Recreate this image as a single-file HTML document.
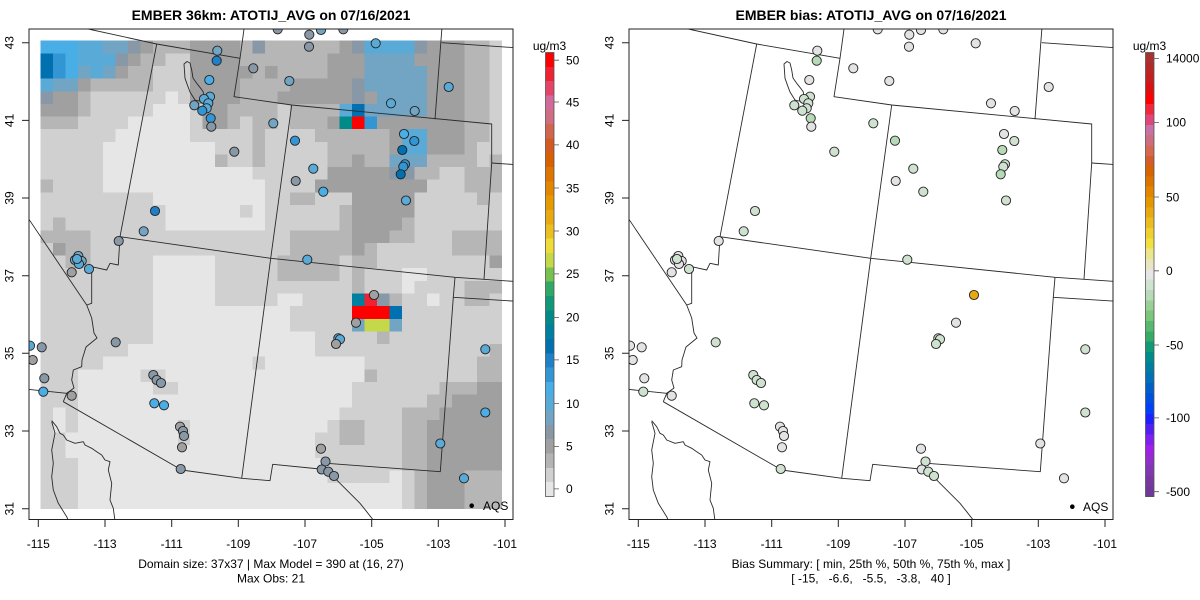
<!DOCTYPE html>
<html>
<head>
<meta charset="utf-8">
<style>
html,body{margin:0;padding:0;background:#fff;}
svg{display:block;}
text{font-family:"Liberation Sans",Arial,sans-serif;fill:#000;}
</style>
</head>
<body>
<svg id="root" width="1200" height="600" viewBox="0 0 1200 600" xmlns="http://www.w3.org/2000/svg" xmlns:xlink="http://www.w3.org/1999/xlink">
<defs>
  <clipPath id="cl"><rect x="29" y="29" width="484" height="490.5"/></clipPath>
  <clipPath id="cr"><rect x="629" y="29" width="484" height="490.5"/></clipPath>
  <g id="geo" fill="none" stroke="#2a2a2a" stroke-width="0.9" stroke-linejoin="round">
    <path d="M88.3,29 L156.7,44 L240,58.3"/>
    <path d="M156.7,44 L120,236.7"/>
    <path d="M120,236.7 L270.7,258.3 L455,277.3 L515,281.5"/>
    <path d="M244.3,27 L240,58.3 L234,96.7 L291.7,105 L491.7,124 L491.7,163 L484,279.3"/>
    <path d="M291.7,105 L270.7,258.3 L241.7,478.3"/>
    <path d="M442,27 L435,119.3"/>
    <path d="M441.7,42.7 L515,47.7"/>
    <path d="M491.7,163 L515,164.6"/>
    <path d="M455,277.3 L453.3,297.3 L515,301.2"/>
    <path d="M453.3,297.3 L440.3,471.7 L326.7,463.3"/>
    <path d="M63.3,401.7 L181.7,470 L242,478.3 L270,480.7 L272.7,464.3 L320,469"/>
    <path d="M27,389.2 L66.7,393.3 L63.3,401.7"/>
    <path d="M27,216.4 L86.7,305"/>
    <path d="M120,236.7 L118.3,265 L110,263.3 L106.7,270 L91.7,266.7 L91.7,303.3 L86.7,305 L91.7,318 L94,333 L97,338 L86,347 L82,360 L81.7,366.7 L73.3,370 L71.7,380 L74,388 L66.7,393.3"/>
    <path d="M51.7,420.7 L56.7,426.7 L60,433.3 L63.3,435 L66.7,440 L75,443.3 L83.3,441.7 L85,445 L91.7,448.3 L96.7,451.7 L101.7,455 L105,460 L110,461.7 L108.3,470 L111.7,483.3 L110,500 L113.3,508.3 L115,521"/>
    <path d="M51.7,421.7 L55,433.3 L51.7,450 L53.3,463.3 L51.7,476.7 L53.3,490 L58.3,503.3 L66.7,516.7 L68.5,521"/>
    <path d="M320,469 L330,473.3 L340,483.3 L350,493.3 L360,503.3 L366.7,511.7 L374,521"/>
    <path d="M184,64 L187,61.5 L190,63 L191.7,70 L193,78 L196.7,83.3 L200.7,88.3 L203.3,92 L204,100 L199,101 L195,100 L190,92 L188,86.7 L185,78.3 Z"/>
  </g>
</defs>

<!-- LEFT PANEL -->
<g clip-path="url(#cl)">
  <rect x="40.7" y="40.7" width="461" height="467.7" fill="#d6d6d6"/>
  <g id="grid" shape-rendering="crispEdges"></g>
  <use xlink:href="#geo" href="#geo"/>
  <g id="ptsL"></g>
</g>
<!-- RIGHT PANEL -->
<g clip-path="url(#cr)">
  <use xlink:href="#geo" href="#geo" x="600"/>
  <g id="ptsR"></g>
</g>

<!-- boxes and ticks -->
<g fill="none" stroke="#222" stroke-width="1">
  <rect x="29" y="29" width="484" height="490.5"/>
  <rect x="629" y="29" width="484" height="490.5"/>
  <path d="M22,42.7H29M22,120.4H29M22,198H29M22,275.7H29M22,353.3H29M22,431H29M22,508.7H29"/>
  <path d="M622,42.7H629M622,120.4H629M622,198H629M622,275.7H629M622,353.3H629M622,431H629M622,508.7H629"/>
  <path d="M38.3,519.5V527M105,519.5V527M171.7,519.5V527M238.3,519.5V527M305,519.5V527M371.7,519.5V527M438.3,519.5V527M505,519.5V527"/>
  <path d="M638.3,519.5V527M705,519.5V527M771.7,519.5V527M838.3,519.5V527M905,519.5V527M971.7,519.5V527M1038.3,519.5V527M1105,519.5V527"/>
</g>

<!-- titles -->
<text x="271" y="20" font-size="14" font-weight="bold" text-anchor="middle">EMBER 36km: ATOTIJ_AVG on 07/16/2021</text>
<text x="871" y="20" font-size="14" font-weight="bold" text-anchor="middle">EMBER bias: ATOTIJ_AVG on 07/16/2021</text>

<!-- y labels left -->
<g font-size="12" text-anchor="middle">
  <text transform="translate(13.5,42.7) rotate(-90)">43</text>
  <text transform="translate(13.5,120.4) rotate(-90)">41</text>
  <text transform="translate(13.5,198) rotate(-90)">39</text>
  <text transform="translate(13.5,275.7) rotate(-90)">37</text>
  <text transform="translate(13.5,353.3) rotate(-90)">35</text>
  <text transform="translate(13.5,431) rotate(-90)">33</text>
  <text transform="translate(13.5,508.7) rotate(-90)">31</text>
  <text transform="translate(613.5,42.7) rotate(-90)">43</text>
  <text transform="translate(613.5,120.4) rotate(-90)">41</text>
  <text transform="translate(613.5,198) rotate(-90)">39</text>
  <text transform="translate(613.5,275.7) rotate(-90)">37</text>
  <text transform="translate(613.5,353.3) rotate(-90)">35</text>
  <text transform="translate(613.5,431) rotate(-90)">33</text>
  <text transform="translate(613.5,508.7) rotate(-90)">31</text>
</g>
<!-- x labels -->
<g font-size="12" text-anchor="middle">
  <text x="38.3" y="548">-115</text>
  <text x="105" y="548">-113</text>
  <text x="171.7" y="548">-111</text>
  <text x="238.3" y="548">-109</text>
  <text x="305" y="548">-107</text>
  <text x="371.7" y="548">-105</text>
  <text x="438.3" y="548">-103</text>
  <text x="505" y="548">-101</text>
  <text x="638.3" y="548">-115</text>
  <text x="705" y="548">-113</text>
  <text x="771.7" y="548">-111</text>
  <text x="838.3" y="548">-109</text>
  <text x="905" y="548">-107</text>
  <text x="971.7" y="548">-105</text>
  <text x="1038.3" y="548">-103</text>
  <text x="1105" y="548">-101</text>
</g>
<!-- subtitles -->
<g font-size="12" text-anchor="middle">
  <text x="271" y="568">Domain size: 37x37 | Max Model = 390 at (16, 27)</text>
  <text x="271" y="582.5">Max Obs: 21</text>
  <text x="871" y="568">Bias Summary: [ min, 25th %, 50th %, 75th %, max ]</text>
  <text x="871" y="582.5" style="white-space:pre" xml:space="preserve">[ -15,   -6.6,   -5.5,   -3.8,   40 ]</text>
</g>

<!-- AQS legends -->
<circle cx="471.7" cy="505.7" r="2.3" fill="#000"/>
<text x="483" y="510" font-size="12">AQS</text>
<circle cx="1072.3" cy="506.7" r="2.3" fill="#000"/>
<text x="1083" y="511" font-size="12">AQS</text>

<!-- colorbars -->
<g id="cbL" shape-rendering="crispEdges"></g>
<g id="cbR" shape-rendering="crispEdges"></g>
<g fill="none" stroke="#555" stroke-width="0.8">
  <rect x="545.5" y="52.5" width="8.5" height="444"/>
  <rect x="1145.5" y="52.5" width="8.5" height="444"/>
  <path d="M554,488.9H559M554,446.4H559M554,403.5H559M554,359.9H559M554,317.4H559M554,273.9H559M554,231H559M554,188H559M554,144.9H559M554,102H559M554,60.2H559"/>
  <path d="M1154,58.4H1159M1154,122.4H1159M1154,197H1159M1154,270.8H1159M1154,345H1159M1154,417.9H1159M1154,491.7H1159"/>
</g>
<g font-size="12">
  <text x="549.5" y="50" text-anchor="middle">ug/m3</text>
  <text x="566" y="493.2">0</text>
  <text x="566" y="450.7">5</text>
  <text x="566" y="407.8">10</text>
  <text x="566" y="364.2">15</text>
  <text x="566" y="321.7">20</text>
  <text x="566" y="278.2">25</text>
  <text x="566" y="235.3">30</text>
  <text x="566" y="192.3">35</text>
  <text x="566" y="149.2">40</text>
  <text x="566" y="106.3">45</text>
  <text x="566" y="64.5">50</text>
  <text x="1149.5" y="50" text-anchor="middle">ug/m3</text>
  <text x="1166" y="62.7">14000</text>
  <text x="1166" y="126.7">100</text>
  <text x="1166" y="201.3">50</text>
  <text x="1166" y="275.1">0</text>
  <text x="1166" y="349.3">-50</text>
  <text x="1166" y="422.2">-100</text>
  <text x="1166" y="496">-500</text>
</g>

<script>
(function(){
var NS='http://www.w3.org/2000/svg';
function el(tag,attrs,parent){var e=document.createElementNS(NS,tag);for(var k in attrs)e.setAttribute(k,attrs[k]);parent.appendChild(e);return e;}
var C={'0':'#e6e6e6','1':'#d0d0d0','2':'#b6b6b6','3':'#a0a0a0','4':'#8898a6','5':'#72a4c4','6':'#5aaad8','7':'#4aaee6','8':'#3396d4','9':'#1f80c8','a':'#0070b0','b':'#008a88','c':'#0080a0','r':'#ff0000','p':'#ee2233','y':'#c5d84a'};
var R=[
"7*3 6*2 5*2 4 3 2*3 3*4 2 4 2*6 3 4 6*4 4 3*3 2*2 1",
"a 8 7 6*3 4 3 2*2 1*2 3*4 2*7 3*3 5*4 3*4 2*2 1",
"a 8 7 5 6 5 3 2*2 1*3 3*5 2 3 2*4 3*3 5*5 3*3 2*2 1",
"6 5*2 3 2*5 1*3 3*4 2*4 3*5 4 5*5 3*3 2*2 1",
"4 3*2 2 1*6 0 1 3*4 2*3 3*6 4 3 5*4 3*3 2*2 1",
"3*3 2 1*5 0*3 1 3*2 2*4 1 2*4 6 a 5*5 3*3 2*2 1",
"2*3 1*4 0*5 1 3*2 2 1 2*2 1 2*3 3 b r 8 3*7 2*2 1",
"1*6 0*6 1*5 2 1*4 2*6 3 6*2 3*3 2*2 1",
"1*5 0*9 1*3 2 1*5 2*5 3 6*2 3*3 2 1*2",
"1*5 0*9 2 1*2 2 1*5 2*2 3 2*2 5*3 2*4 1 2",
"1*5 0*12 1*6 3*5 4*2 2*2 1*2 2*3",
"2 1*4 0*13 1*4 3*9 1*3 2*3",
"1*9 0*9 1*2 2*2 1*3 3*5 1*5 2 1",
"1*10 0*6 1 0 1*6 2 3*5 1*7",
"1 2 1*8 0*8 1*6 2 3*4 2 1*7",
"2*4 1*16 2*5 3*3 2*2 1*3 2*4",
"1 3 2*2 1*16 2*5 3 2 1*6 2*4",
"1*2 2*2 1*5 0*5 1*5 2*5 1 2*2 1*9 3",
"1*9 0*5 1*5 2*5 1 2 1*3 0*2 1*6",
"1*9 0*5 1*11 2 1*3 0 1*4 2*3",
"1*9 0*5 1*5 0*2 1*4 c p 4 2 1*2 0 1*2 2*2 1",
"1*9 0*11 1*5 r*3 a 1*8",
"1*9 0*11 1*5 5 y*2 5 1*8",
"1*9 0*13 1*5 2 1*9",
"1*7 0*15 1*14 2",
"1*5 0*12 1 0*8 1*9 2*2",
"1*3 0*5 1*2 0*16 2 1*8 2*2",
"1*3 0*6 1*2 0*14 1*7 2*3 3*2",
"1*3 0*22 1*6 2*2 3*4",
"1 0 1 0*21 1*5 2*3 3*5",
"1 0 1 0*8 1 0*11 1 2*2 1*3 2*2 3*6",
"1*2 0*9 1 0*10 1*2 2*2 1*3 2*2 3*6",
"1*2 0*20 1*7 2*2 3*6",
"1*3 0*20 1*6 2*2 3*6",
"1*3 0*20 1*5 0 1 2 3*3 2*3",
"1*3 0*26 1 2 3*3 2*3",
"1*3 0*26 1 2 3*3 2*3"
];
var g=document.getElementById('grid');
var x0=40.7,y0=40.7,cw=12.46,rh=12.64;
R.forEach(function(row,j){
  var s='';
  row.split(' ').forEach(function(t){var p=t.split('*');s+=p[0].repeat(p[1]?+p[1]:1);});
  for(var i=0;i<37;i++){
    var ch=s[i]||s[s.length-1];
    el('rect',{x:(x0+cw*i).toFixed(2),y:(y0+rh*j).toFixed(2),width:(cw+0.5).toFixed(2),height:(rh+0.5).toFixed(2),fill:C[ch]||'#d0d0d0'},g);
  }
});

var LB=['#ff0000','#ee2233','#e4436a','#d36b9a','#cf6e80','#d0664e','#d45a22','#d96000','#e07400','#e38600','#e59a00','#e8aa10','#ecbf20','#f0dc38','#c5d84a','#78c050','#30a868','#109878','#008a88','#0080a0','#0070b0','#1f80c8','#3396d4','#4aaee6','#5aaad8','#72a4c4','#8898a6','#a0a0a0','#b4b4b4','#d0d0d0','#e6e6e6'];
var RB=['#a83232','#b42828','#c41e1e','#dc1010','#ff0000','#f0283c','#e0467a','#c870a8','#cc6e80','#d46850','#d45c28','#d86400','#de7400','#e28600','#e49800','#e8aa10','#ecbc20','#efd030','#f0e040','#ece68a','#e8e6c0','#e6e6e6','#d0e2d0','#b8dab8','#98d098','#7ac67a','#58b870','#38aa68','#109a78','#008c88','#007ea0','#0070b8','#0060c8','#0050e0','#0040f8','#1e20ff','#5020f0','#8020f0','#a020e8','#9030c8','#8038b0','#7838a0','#703898'];
function bar(list,x,parent){
  var top=52.5,bot=496.5,h=(bot-top)/list.length;
  list.forEach(function(c,i){el('rect',{x:x,y:(top+h*i).toFixed(2),width:8.5,height:(h+0.5).toFixed(2),fill:c},parent);});
}
bar(LB,545.5,document.getElementById('cbL'));
bar(RB,1145.5,document.getElementById('cbR'));

var LC={'G':'#a0a0a0','4':'#8898a6','5':'#72a4c4','6':'#5aaad8','7':'#4aaee6','8':'#3396d4','9':'#1f80c8','a':'#0070b0'};
var RC={'W':'#e3e3e3','P':'#cfe1cf','Q':'#b6d9b6','O':'#e8a810'};
var P=[
[277.7,29.3,'4','W'],[309.3,34.7,'4','W'],[321,30,'5','W'],[343.3,29.3,'4','W'],[309,46.7,'4','W'],[375.7,43.3,'6','W'],
[217.3,50.7,'5','W'],[216.7,60.7,'9','Q'],[209.3,80,'7','W'],[253.3,68.3,'4','W'],[289.3,81,'5','W'],
[194.3,105.3,'5','P'],[210,96.7,'6','P'],[204,99,'6','P'],[208.3,103.3,'6','P'],[206.7,108.3,'6','P'],[202.3,110.7,'8','P'],
[210.7,118.3,'8','Q'],[211.3,126.7,'4','W'],[273.3,123.3,'5','P'],[234.3,151.7,'4','P'],[295,140.7,'8','Q'],
[313.3,168.7,'6','P'],[295.7,181,'4','W'],[323.3,191.7,'7','P'],[391,103.3,'6','W'],[414.7,111,'5','W'],[448.7,87,'6','W'],
[404,134,'7','W'],[414.3,141,'8','P'],[402.3,150,'a','Q'],[405,164.3,'8','P'],[403.3,166.7,'8','P'],[400.7,174.3,'a','Q'],
[406,200.5,'6','P'],[155,211,'9','P'],[143.7,231.3,'5','P'],[118.7,241,'4','W'],
[78.3,256,'5','W'],[75,260,'5','W'],[81.7,261,'5','W'],[79,264,'6','W'],[77,259,'6','P'],[89,269,'6','P'],[71.7,272.3,'G','W'],
[307.3,259.7,'6','P'],[374,295,'G','O'],[356,322.7,'G','W'],[338.3,338.3,'6','P'],[340,339.3,'6','P'],[336,344,'G','P'],
[485.3,349.3,'6','P'],[115.7,342.3,'4','P'],[30,345.7,'6','W'],[41.7,347.3,'4','W'],[32.7,360,'G','W'],[44.3,378.3,'4','W'],
[43.3,391.7,'7','P'],[71.7,395.7,'G','W'],[153.3,375,'4','P'],[156.7,380,'4','P'],[161,383,'4','P'],[154.3,403.3,'7','P'],
[164,405.3,'7','P'],[180,426.7,'G','W'],[183,431,'4','W'],[184,436,'4','W'],[182,447.3,'G','W'],[180.7,469,'4','P'],
[485.3,412.5,'7','P'],[440.3,443.5,'6','W'],[464,478.3,'6','W'],[321,448.7,'G','W'],[325.5,461.5,'4','P'],
[321.7,469.5,'4','W'],[328.3,471.7,'4','P'],[334,476,'4','P']
];
var pl=document.getElementById('ptsL'),pr=document.getElementById('ptsR');
P.forEach(function(p){
  el('circle',{cx:p[0],cy:p[1],r:4.6,fill:LC[p[2]],stroke:'#222','stroke-width':0.9},pl);
  el('circle',{cx:p[0]+600,cy:p[1],r:4.6,fill:RC[p[3]],stroke:'#222','stroke-width':0.9},pr);
});
})();
</script>
</svg>
</body>
</html>
